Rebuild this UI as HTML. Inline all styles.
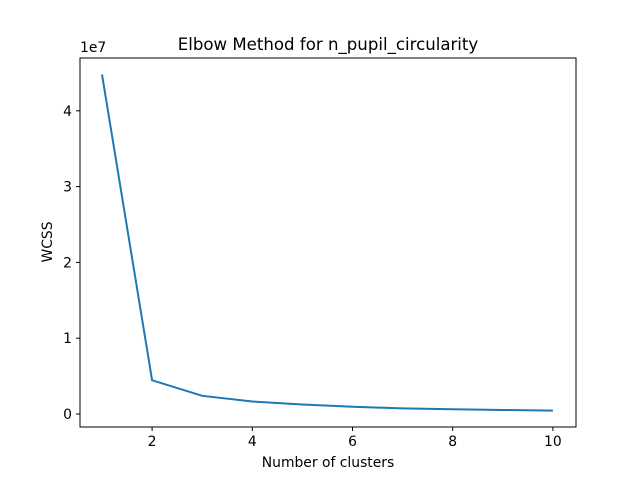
<!DOCTYPE html>
<html><head><meta charset="utf-8"><style>body{margin:0;background:#fff}svg{display:block}text{font-family:"DejaVu Sans","Liberation Sans",sans-serif;fill:#000}</style></head>
<body>
<svg id="chart" width="640" height="480" xmlns="http://www.w3.org/2000/svg">
<rect x="0" y="0" width="640" height="480" fill="#fff"/>
<text x="328" y="50" font-size="16.6" text-anchor="middle">Elbow Method for n_pupil_circularity</text>
<text x="328" y="467" font-size="13.9" text-anchor="middle">Number of clusters</text>
<text x="52" y="242" font-size="13.9" text-anchor="middle" transform="rotate(-90 52 242)">WCSS</text>
<text x="80" y="52" font-size="13.9">1e7</text>
<g id="ticks"></g>
<path id="line" fill="none" stroke="#1f77b4" stroke-width="2"/>
<rect x="80" y="58" width="496" height="369" fill="none" stroke="#000" stroke-width="1"/>
</svg>
<script>
const clusters=[1,2,3,4,5,6,7,8,9,10];
const wcss=[4.48,0.445,0.24,0.165,0.125,0.095,0.075,0.063,0.053,0.045];
const xTicks=[2,4,6,8,10];
const yTicks=[0,1,2,3,4];
const xs=v=>102+(v-1)*50.1;
const ys=v=>414-v*75.8;
const ns="http://www.w3.org/2000/svg";
const g=document.getElementById('ticks');
function mk(t,a){const e=document.createElementNS(ns,t);for(const k in a)e.setAttribute(k,a[k]);g.appendChild(e);return e;}
xTicks.forEach(v=>{const x=xs(v);
const l=mk('line',{x1:x,x2:x,y1:427,y2:431,stroke:'#000','stroke-width':1});


const t=mk('text',{x:x,y:446,'font-size':13.9,'text-anchor':'middle'});t.textContent=v;

});
yTicks.forEach(v=>{const y=ys(v);
const l=mk('line',{x1:76,x2:80,y1:y,y2:y,stroke:'#000','stroke-width':1});


const t=mk('text',{x:72,y:y+5,'font-size':13.9,'text-anchor':'end'});t.textContent=v;

});
document.getElementById('line').setAttribute('d',clusters.map((c,i)=>(i?'L':'M')+xs(c)+','+ys(wcss[i])).join(' '));
</script>
</body></html>
